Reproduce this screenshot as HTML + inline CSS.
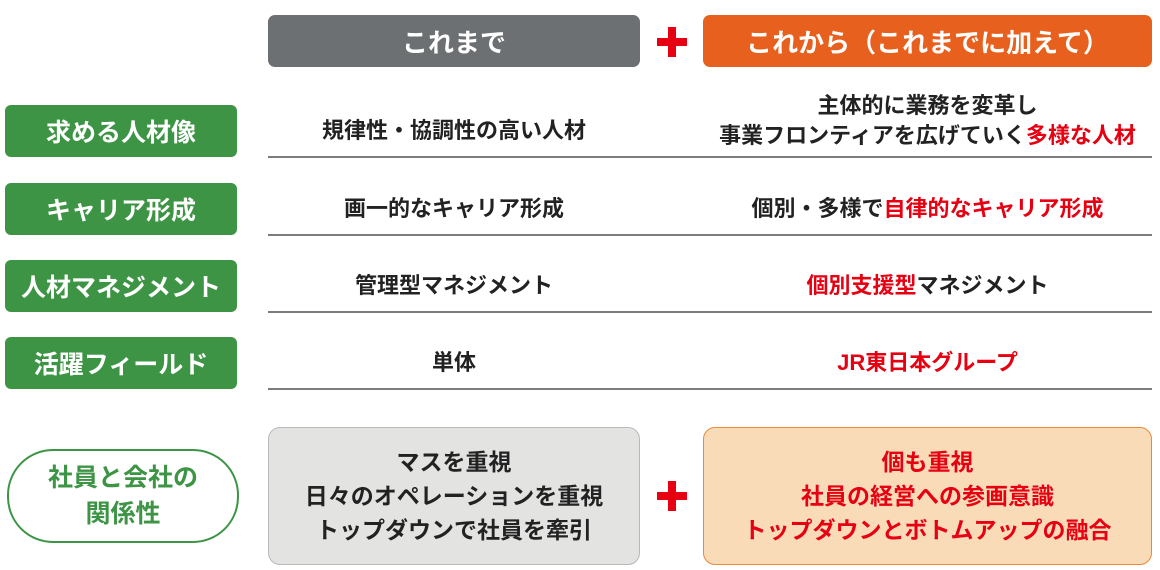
<!DOCTYPE html>
<html><head><meta charset="utf-8"><style>
body{margin:0;width:1160px;height:570px;background:#fff;position:relative;overflow:hidden;font-family:"Liberation Sans","Noto Sans CJK JP",sans-serif;font-weight:bold;}
.a{position:absolute;display:flex;align-items:center;justify-content:center;text-align:center;}
.a>div{width:100%;}
.hd{color:#fff;font-size:26px;border-radius:7px;top:15px;height:52px;}
.g{left:5px;width:232px;height:52px;background:#3d9445;color:#fff;font-size:25px;border-radius:6px;}
.t{font-size:22px;color:#222;line-height:30px;}
.r{color:#e60012;}
.ln{position:absolute;left:268px;width:884px;height:2px;background:#7a7c7e;}
.plus{position:absolute;width:30px;height:30px;}
.plus:before{content:"";position:absolute;left:11px;top:0;width:8px;height:30px;background:#e60012;}
.plus:after{content:"";position:absolute;left:0;top:11px;width:30px;height:8px;background:#e60012;}
</style></head><body>
<div class="a hd" style="left:268px;width:372px;background:#6d7072"><div>これまで</div></div>
<div class="plus" style="left:657px;top:27px"></div>
<div class="a hd" style="left:703px;width:449px;background:#e8601e"><div>これから（これまでに加えて）</div></div>

<div class="a g" style="top:105px"><div>求める人材像</div></div>
<div class="a g" style="top:183px"><div>キャリア形成</div></div>
<div class="a g" style="top:260px"><div>人材マネジメント</div></div>
<div class="a g" style="top:337px"><div>活躍フィールド</div></div>

<div class="a t" style="left:268px;width:372px;top:105px;height:52px"><div>規律性・協調性の高い人材</div></div>
<div class="a t" style="left:703px;width:449px;top:89px;height:64px"><div>主体的に業務を変革し<br>事業フロンティアを広げていく<span class="r">多様な人材</span></div></div>
<div class="ln" style="top:156px"></div>
<div class="a t" style="left:268px;width:372px;top:183px;height:52px"><div>画一的なキャリア形成</div></div>
<div class="a t" style="left:703px;width:449px;top:183px;height:52px"><div>個別・多様で<span class="r">自律的なキャリア形成</span></div></div>
<div class="ln" style="top:234px"></div>
<div class="a t" style="left:268px;width:372px;top:260px;height:52px"><div>管理型マネジメント</div></div>
<div class="a t" style="left:703px;width:449px;top:260px;height:52px"><div><span class="r">個別支援型</span>マネジメント</div></div>
<div class="ln" style="top:311px"></div>
<div class="a t" style="left:268px;width:372px;top:337px;height:52px"><div>単体</div></div>
<div class="a t r" style="left:703px;width:449px;top:337px;height:52px"><div>JR東日本グループ</div></div>
<div class="ln" style="top:388px"></div>

<div class="a" style="left:7px;top:449px;width:228px;height:90px;border:2px solid #3d9445;border-radius:46px;color:#3d9445;font-size:25px;line-height:36px"><div>社員と会社の<br>関係性</div></div>
<div class="a t" style="left:268px;top:427px;width:370px;height:136px;background:#e3e4e2;border:1px solid #b8b9b8;border-radius:12px;font-size:23px;line-height:34px"><div>マスを重視<br>日々のオペレーションを重視<br>トップダウンで社員を牽引</div></div>
<div class="plus" style="left:657px;top:481px"></div>
<div class="a t r" style="left:703px;top:427px;width:447px;height:136px;background:#f9dbb8;border:1px solid #e98a3a;border-radius:12px;font-size:23px;line-height:34px"><div>個も重視<br>社員の経営への参画意識<br>トップダウンとボトムアップの融合</div></div>
</body></html>
